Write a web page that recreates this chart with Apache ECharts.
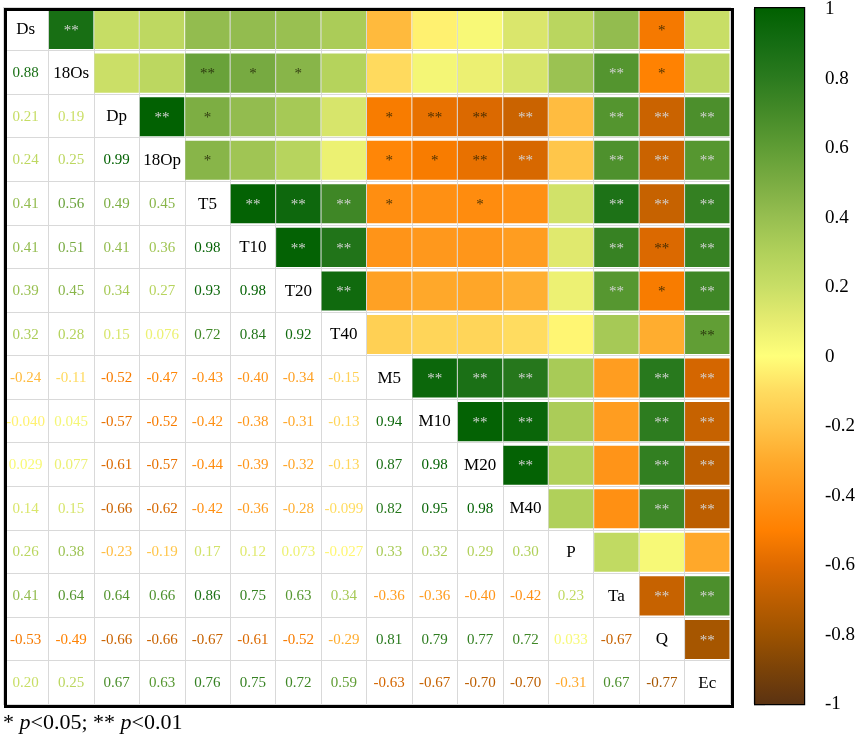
<!DOCTYPE html>
<html>
<head>
<meta charset="utf-8">
<script src="https://cdn.jsdelivr.net/npm/echarts@6/dist/echarts.min.js"></script>
<style>
  html, body { margin: 0; padding: 0; background: #fff; }
  #main { width: 858px; height: 739px; }
</style>
</head>
<body>
<div id="main"></div>
<script>
var labels = ['Ds', '18Os', 'Dp', '18Op', 'T5', 'T10', 'T20', 'T40', 'M5', 'M10', 'M20', 'M40', 'P', 'Ta', 'Q', 'Ec'];

// lower triangle, row i holds r with columns 0..i-1
var corr = [
  [],
  [0.88],
  [0.21, 0.19],
  [0.24, 0.25, 0.99],
  [0.41, 0.56, 0.49, 0.45],
  [0.41, 0.51, 0.41, 0.36, 0.98],
  [0.39, 0.45, 0.34, 0.27, 0.93, 0.98],
  [0.32, 0.28, 0.15, 0.076, 0.72, 0.84, 0.92],
  [-0.24, -0.11, -0.52, -0.47, -0.43, -0.40, -0.34, -0.15],
  [-0.040, 0.045, -0.57, -0.52, -0.42, -0.38, -0.31, -0.13, 0.94],
  [0.029, 0.077, -0.61, -0.57, -0.44, -0.39, -0.32, -0.13, 0.87, 0.98],
  [0.14, 0.15, -0.66, -0.62, -0.42, -0.36, -0.28, -0.099, 0.82, 0.95, 0.98],
  [0.26, 0.38, -0.23, -0.19, 0.17, 0.12, 0.073, -0.027, 0.33, 0.32, 0.29, 0.30],
  [0.41, 0.64, 0.64, 0.66, 0.86, 0.75, 0.63, 0.34, -0.36, -0.36, -0.40, -0.42, 0.23],
  [-0.53, -0.49, -0.66, -0.66, -0.67, -0.61, -0.52, -0.29, 0.81, 0.79, 0.77, 0.72, 0.033, -0.67],
  [0.20, 0.25, 0.67, 0.63, 0.76, 0.75, 0.72, 0.59, -0.63, -0.67, -0.70, -0.70, -0.31, 0.67, -0.77]
];

// upper triangle stars, row i holds columns i+1..15
var sig = [
  ['**', '', '', '', '', '', '', '', '', '', '', '', '', '*', ''],
  ['', '', '**', '*', '*', '', '', '', '', '', '', '**', '*', ''],
  ['**', '*', '', '', '', '*', '**', '**', '**', '', '**', '**', '**'],
  ['*', '', '', '', '*', '*', '**', '**', '', '**', '**', '**'],
  ['**', '**', '**', '*', '', '*', '', '', '**', '**', '**'],
  ['**', '**', '', '', '', '', '', '**', '**', '**'],
  ['**', '', '', '', '', '', '**', '*', '**'],
  ['', '', '', '', '', '', '', '**'],
  ['**', '**', '**', '', '', '**', '**'],
  ['**', '**', '', '', '**', '**'],
  ['**', '', '', '**', '**'],
  ['', '', '**', '**'],
  ['', '', ''],
  ['**', '**'],
  ['**']
];

var barTicks = [-1, 1, 0.2];

// colours from r = -1 to r = 1 in steps of 0.1
var colorStops = ['#5a3212', '#7a4208', '#9c5200', '#bc5e00', '#de6a00', '#ff8000', '#ff9418',
                  '#ffaa2c', '#ffc448', '#ffdc60', '#ffff7a', '#e6ec70', '#c8de66', '#b0d05a',
                  '#96be50', '#7aac42', '#5e9c34', '#448a28', '#2a7a1e', '#146c12', '#006000'];

function fmt(v) {
  return Math.abs(v) < 0.1 ? v.toFixed(3) : v.toFixed(2);
}

var upperData = [], upperStars = [], lowerData = [], diagData = [];
corr.forEach(function (row, i) {
  row.forEach(function (v, j) {
    lowerData.push([j, i, v]);
    upperData.push([i, j, v]);
    upperStars.push(sig[j][i - j - 1]);
  });
  diagData.push([i, i]);
});

var barGradient = {
  type: 'linear', x: 0, y: 0, x2: 0, y2: 1,
  colorStops: colorStops.map(function (c, k) {
    return {offset: 1 - k / (colorStops.length - 1), color: c};
  }).reverse()
};

var chart = echarts.init(document.getElementById('main'));
var serif = '"Liberation Serif", "Times New Roman", serif';

var option = {
  backgroundColor: '#fff',
  animation: false,
  grid: [
    {left: 3, top: 7, width: 727, height: 697},
    {left: 754, top: 7, width: 50, height: 697}
  ],
  xAxis: [
    {type: 'category', data: labels, gridIndex: 0,
     axisLabel: {show: false}, axisTick: {show: false}, axisLine: {show: false},
     splitLine: {show: true, interval: 0, lineStyle: {color: '#d9d9d9', width: 1}}},
    {type: 'value', gridIndex: 1, show: false, min: 0, max: 1}
  ],
  yAxis: [
    {type: 'category', data: labels, gridIndex: 0, inverse: true,
     axisLabel: {show: false}, axisTick: {show: false}, axisLine: {show: false},
     splitLine: {show: true, interval: 0, lineStyle: {color: '#d9d9d9', width: 1}}},
    {type: 'value', gridIndex: 1, position: 'right',
     min: barTicks[0], max: barTicks[1], interval: barTicks[2],
     axisLine: {show: true, lineStyle: {color: '#000', width: 1.2}},
     axisTick: {show: true, length: 11, lineStyle: {color: '#000', width: 1.2}},
     axisLabel: {color: '#000', fontFamily: serif, fontSize: 19, margin: 21},
     splitLine: {show: false}}
  ],
  visualMap: {
    type: 'continuous', show: false, min: -1, max: 1, dimension: 2, seriesIndex: [0, 1],
    inRange: {color: colorStops}
  },
  series: [
    {
      type: 'custom', xAxisIndex: 0, yAxisIndex: 0, data: upperData,
      renderItem: function (params, api) {
        var c = api.coord([api.value(0), api.value(1)]);
        var s = api.size([1, 1]);
        var r = api.value(2);
        var st = upperStars[params.dataIndex];
        return {
          type: 'group',
          children: [
            {type: 'rect',
             shape: {x: c[0] - s[0] / 2 + 0.5, y: c[1] - s[1] / 2 + 3, width: s[0] - 1, height: s[1] - 4.5},
             style: {fill: api.visual('color')}},
            {type: 'text',
             style: {text: st, x: c[0], y: c[1] + 2, align: 'center', verticalAlign: 'middle',
                     fill: Math.abs(r) >= 0.615 ? '#d4d4d4' : 'rgba(25,25,0,0.78)',
                     font: '15px ' + serif}}
          ]
        };
      }
    },
    {
      type: 'custom', xAxisIndex: 0, yAxisIndex: 0, data: lowerData,
      renderItem: function (params, api) {
        var c = api.coord([api.value(0), api.value(1)]);
        return {
          type: 'text',
          style: {text: fmt(api.value(2)), x: c[0], y: c[1] + 1, align: 'center', verticalAlign: 'middle',
                  fill: api.visual('color'), font: '15px ' + serif}
        };
      }
    },
    {
      type: 'custom', xAxisIndex: 0, yAxisIndex: 0, data: diagData,
      renderItem: function (params, api) {
        var c = api.coord([api.value(0), api.value(1)]);
        return {
          type: 'text',
          style: {text: labels[params.dataIndex], x: c[0], y: c[1] + 1, align: 'center', verticalAlign: 'middle',
                  fill: '#000', font: '17px ' + serif}
        };
      }
    }
  ],
  graphic: [
    {type: 'rect', left: 3, top: 7, z: 100, silent: true,
     shape: {width: 727, height: 697}, style: {fill: 'none', stroke: '#000', lineWidth: 3}},
    {type: 'rect', left: 754, top: 7, z: 1, silent: true,
     shape: {width: 50, height: 697}, style: {fill: barGradient, stroke: '#000', lineWidth: 1.2}},
    {type: 'text', left: 3, top: 712, z: 100,
     style: {
       text: '{n|* }{i|p}{n|<0.05; ** }{i|p}{n|<0.01}',
       rich: {
         n: {fontFamily: serif, fontSize: 22, fill: '#000'},
         i: {fontFamily: serif, fontSize: 22, fontStyle: 'italic', fill: '#000'}
       }
     }}
  ]
};

chart.setOption(option);
</script>
</body>
</html>
